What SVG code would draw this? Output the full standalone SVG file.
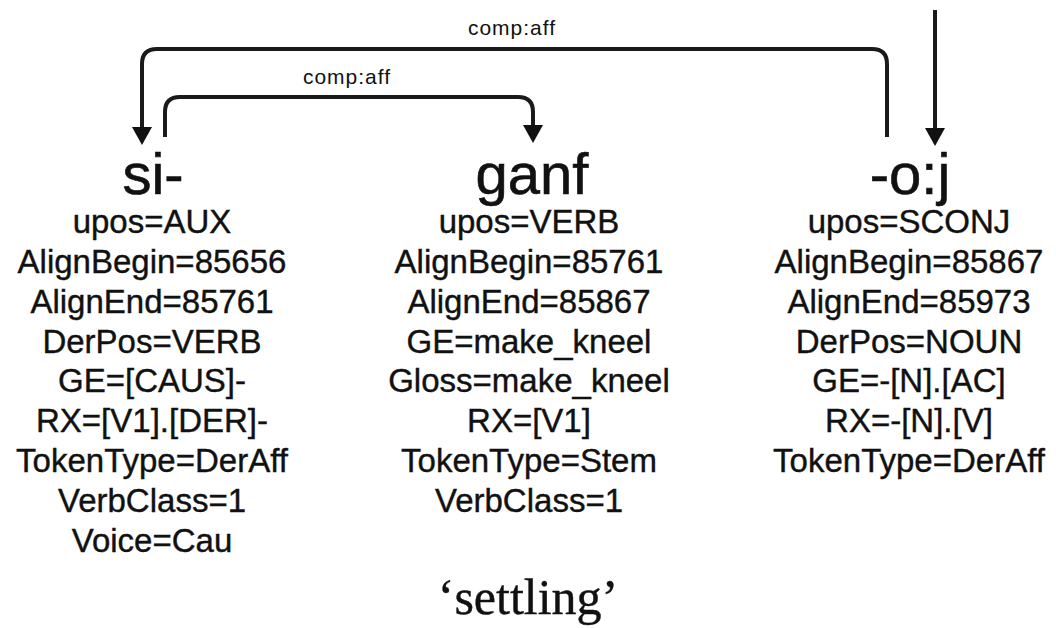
<svg xmlns="http://www.w3.org/2000/svg" width="1056" height="628" viewBox="0 0 1056 628">
  <style>
    .word { font-family: "Liberation Sans", Arial, sans-serif; font-size: 58px; fill: #111; stroke: #111; stroke-width: 0.6; text-anchor: middle; }
    .feat { font-family: "Liberation Sans", Arial, sans-serif; font-size: 33px; fill: #111; stroke: #111; stroke-width: 0.4; text-anchor: middle; }
    .lbl { font-family: "Liberation Sans", Arial, sans-serif; font-size: 21px; letter-spacing: 1px; fill: #111; text-anchor: middle; }
    .gloss { font-family: "Liberation Serif", "Times New Roman", serif; font-size: 50px; fill: #111; stroke: #111; stroke-width: 0.4; text-anchor: middle; }
    .edge { fill: none; stroke: #1a1a1a; stroke-width: 4; stroke-linejoin: round; marker-end: url(#head); }
  </style>
  <defs>
    <marker id="head" markerUnits="userSpaceOnUse" markerWidth="20" markerHeight="22" refX="0" refY="10" orient="auto" overflow="visible">
      <path d="M0,0 L18,10 L0,20 Z" fill="#111"/>
    </marker>
  </defs>

  <rect width="1056" height="628" fill="#fff"/>

  <!-- dependency arcs -->
  <g id="connectors">
    <!-- root -> -o:j -->
    <path class="edge" d="M935,10 V128"/>
    <!-- -o:j -> si- -->
    <path class="edge" d="M887,137 V64 Q887,49 872,49 H157 Q142,49 142,64 V127"/>
    <text class="lbl" x="512" y="35">comp:aff</text>
    <!-- si- -> ganf -->
    <path class="edge" d="M165,137 V112 Q165,97 180,97 H518 Q533,97 533,112 V125"/>
    <text class="lbl" x="347" y="84">comp:aff</text>
  </g>

  <g id="node-si">
    <text class="word" x="153" y="194">si-</text>
    <text class="feat" x="152" y="233">upos=AUX</text>
    <text class="feat" x="152" y="273">AlignBegin=85656</text>
    <text class="feat" x="152" y="313">AlignEnd=85761</text>
    <text class="feat" x="152" y="353">DerPos=VERB</text>
    <text class="feat" x="152" y="392">GE=[CAUS]-</text>
    <text class="feat" x="152" y="432">RX=[V1].[DER]-</text>
    <text class="feat" x="152" y="472">TokenType=DerAff</text>
    <text class="feat" x="152" y="512">VerbClass=1</text>
    <text class="feat" x="152" y="552">Voice=Cau</text>
  </g>

  <g id="node-ganf">
    <text class="word" x="532" y="194">ganf</text>
    <text class="feat" x="529" y="233">upos=VERB</text>
    <text class="feat" x="529" y="273">AlignBegin=85761</text>
    <text class="feat" x="529" y="313">AlignEnd=85867</text>
    <text class="feat" x="529" y="353">GE=make_kneel</text>
    <text class="feat" x="529" y="392">Gloss=make_kneel</text>
    <text class="feat" x="529" y="432">RX=[V1]</text>
    <text class="feat" x="529" y="472">TokenType=Stem</text>
    <text class="feat" x="529" y="512">VerbClass=1</text>
  </g>

  <g id="node-oj">
    <text class="word" x="910" y="194">-o:j</text>
    <text class="feat" x="909" y="233">upos=SCONJ</text>
    <text class="feat" x="909" y="273">AlignBegin=85867</text>
    <text class="feat" x="909" y="313">AlignEnd=85973</text>
    <text class="feat" x="909" y="353">DerPos=NOUN</text>
    <text class="feat" x="909" y="392">GE=-[N].[AC]</text>
    <text class="feat" x="909" y="432">RX=-[N].[V]</text>
    <text class="feat" x="909" y="472">TokenType=DerAff</text>
  </g>

  <text class="gloss" x="528" y="614">‘settling’</text>
</svg>
